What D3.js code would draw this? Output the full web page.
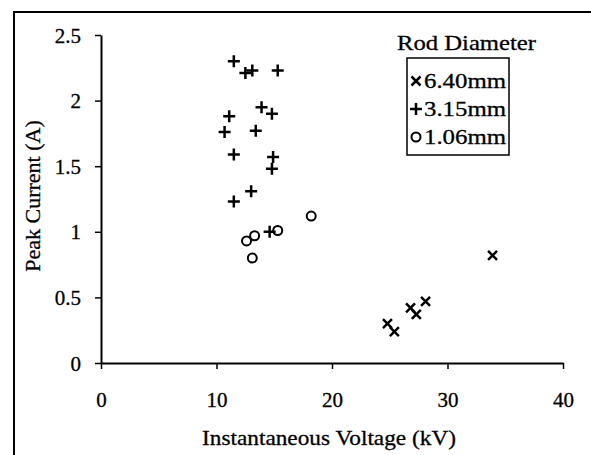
<!DOCTYPE html>
<html>
<head>
<meta charset="utf-8">
<script src="https://cdn.jsdelivr.net/npm/d3@7"></script>
<style>
  body { margin: 0; background: #fff; }
  svg { display: block; }
  text { font-family: "Liberation Serif", "Times New Roman", serif; fill: #000; stroke: #000; stroke-width: 0.3; }
</style>
</head>
<body>
<div id="chart"></div>
<script>
// values
var crossX = [24.8, 25.4, 26.8, 27.3, 28.1, 33.9];   // 6.40mm rod
var crossY = [0.30, 0.24, 0.42, 0.37, 0.47, 0.82];
var plusX = [11.5, 12.5, 13.1, 15.3, 13.9, 14.8, 11.1, 10.7, 13.4, 11.5, 14.9, 14.8, 13.0, 11.5, 14.6]; // 3.15mm
var plusY = [2.30, 2.21, 2.23, 2.23, 1.95, 1.90, 1.88, 1.76, 1.77, 1.59, 1.57, 1.48, 1.31, 1.23, 1.00];
var circX = [18.2, 15.3, 13.3, 12.6, 13.1];          // 1.06mm
var circY = [1.12, 1.01, 0.97, 0.93, 0.80];
var xTicks = [0, 10, 20, 30, 40];
var yTicks = [0, 0.5, 1, 1.5, 2, 2.5];
var legendLabels = ['6.40mm', '3.15mm', '1.06mm'];
var legendShapes = ['cross', 'plus', 'circle'];

var width = 591, height = 455;

var svg = d3.select('#chart').append('svg')
  .attr('width', width)
  .attr('height', height);

// outer frame (only top and left edges show in the scan)
svg.append('path')
  .attr('d', 'M14,455 L14,12 L591,12')
  .attr('fill', 'none')
  .attr('stroke', '#000')
  .attr('stroke-width', 2);

var x = d3.scaleLinear().domain([0, 40]).range([101, 563]);
var y = d3.scaleLinear().domain([0, 2.5]).range([363, 35]);

// x axis
var xAxis = svg.append('g')
  .attr('transform', 'translate(0,' + y(0) + ')')
  .call(d3.axisBottom(x).tickValues(xTicks).tickSize(6).tickSizeOuter(0).tickPadding(38));
// y axis
var yAxis = svg.append('g')
  .attr('transform', 'translate(' + x(0) + ',0)')
  .call(d3.axisLeft(y).tickValues(yTicks).tickSize(6).tickSizeOuter(0).tickPadding(14)
    .tickFormat(function (d) { return d; }));

[xAxis, yAxis].forEach(function (a) {
  a.select('.domain').attr('stroke', '#000').attr('stroke-width', 2);
  a.selectAll('.tick line').attr('stroke', '#000').attr('stroke-width', 1.5);
  a.selectAll('.tick text')
    .attr('font-family', '"Liberation Serif", serif')
    .attr('font-size', 21)
    .attr('fill', '#000');
});
xAxis.selectAll('.tick text').attr('dy', '0');
yAxis.selectAll('.tick text').attr('dy', '0.34em');

// axis titles
svg.append('text')
  .attr('x', 329)
  .attr('y', 445)
  .attr('text-anchor', 'middle')
  .attr('font-size', 22)
  .attr('textLength', 254)
  .attr('lengthAdjust', 'spacingAndGlyphs')
  .text('Instantaneous Voltage (kV)');

svg.append('text')
  .attr('transform', 'translate(40,196) rotate(-90)')
  .attr('text-anchor', 'middle')
  .attr('font-size', 22)
  .text('Peak Current (A)');

// marker drawing
function drawMarker(g, shape, cx, cy) {
  if (shape === 'cross') {
    g.append('path')
      .attr('d', 'M' + (cx - 4.5) + ',' + (cy - 4.5) + 'L' + (cx + 4.5) + ',' + (cy + 4.5) +
                 'M' + (cx - 4.5) + ',' + (cy + 4.5) + 'L' + (cx + 4.5) + ',' + (cy - 4.5))
      .attr('stroke', '#000').attr('stroke-width', 2.5).attr('fill', 'none');
  } else if (shape === 'plus') {
    g.append('path')
      .attr('d', 'M' + (cx - 6) + ',' + cy + 'L' + (cx + 6) + ',' + cy +
                 'M' + cx + ',' + (cy - 6) + 'L' + cx + ',' + (cy + 6))
      .attr('stroke', '#000').attr('stroke-width', 2.5).attr('fill', 'none');
  } else {
    g.append('circle')
      .attr('cx', cx).attr('cy', cy).attr('r', 4.5)
      .attr('stroke', '#000').attr('stroke-width', 2).attr('fill', 'none');
  }
}

var marks = svg.append('g');
crossX.forEach(function (v, i) { drawMarker(marks, 'cross', x(v), y(crossY[i])); });
plusX.forEach(function (v, i) { drawMarker(marks, 'plus', x(v), y(plusY[i])); });
circX.forEach(function (v, i) { drawMarker(marks, 'circle', x(v), y(circY[i])); });

// legend
var legend = svg.append('g');
legend.append('text')
  .attr('x', 397)
  .attr('y', 50)
  .attr('font-size', 22)
  .attr('textLength', 139)
  .attr('lengthAdjust', 'spacingAndGlyphs')
  .text('Rod Diameter');
legend.append('rect')
  .attr('x', 407).attr('y', 58)
  .attr('width', 102).attr('height', 97)
  .attr('fill', 'none')
  .attr('stroke', '#000')
  .attr('stroke-width', 1.5);
legendLabels.forEach(function (lab, i) {
  var ly = 81 + i * 28;
  drawMarker(legend, legendShapes[i], 416, ly);
  legend.append('text')
    .attr('x', 424)
    .attr('y', ly + 7)
    .attr('font-size', 21)
    .attr('textLength', 82)
    .attr('lengthAdjust', 'spacingAndGlyphs')
    .text(lab);
});
</script>
</body>
</html>
